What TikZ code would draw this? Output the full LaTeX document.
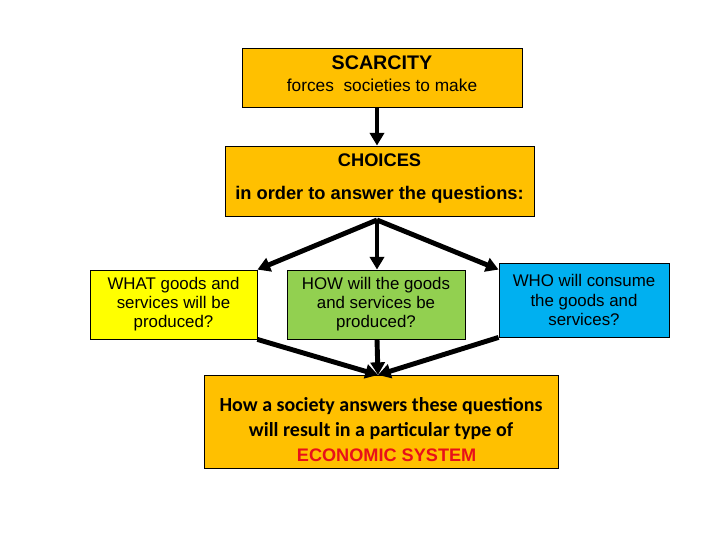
\documentclass[tikz,border=0pt]{standalone}
\usepackage{fontspec}
\setmainfont{Liberation Sans}
\newfontfamily\calibri{Carlito}
\usepackage{tikz}
\usetikzlibrary{arrows.meta}
\usepackage{xcolor}
\definecolor{boxorange}{HTML}{FFC000}
\definecolor{boxyellow}{HTML}{FFFF00}
\definecolor{boxgreen}{HTML}{92D050}
\definecolor{boxblue}{HTML}{00B0F0}
\definecolor{sysred}{HTML}{E8101A}

\begin{document}
\begin{tikzpicture}[
  box/.style={draw=black, line width=0.6pt, inner sep=0pt, align=center},
  question/.style={box, minimum height=1.725cm, font=\fontsize{12}{13.6}\selectfont},
  flow/.style={line width=3.5pt, -{Triangle[length=9pt,width=10pt]}}
]
\useasboundingbox (0,0) rectangle (18,13.5);

\node[box, fill=boxorange, minimum width=7cm, minimum height=1.475cm] (scarcity) at (9.55,11.5625)
  {\fontsize{14}{14}\selectfont\bfseries SCARCITY\\[3.5pt]\fontsize{12.3}{12.5}\selectfont\mdseries forces\ \ societies to make\rule[-5pt]{0pt}{0pt}};
\node[box, fill=boxorange, minimum width=7.725cm, minimum height=1.75cm] (choices) at (9.4875,8.975)
  {\fontsize{13}{13}\selectfont\bfseries CHOICES\\[11pt]\fontsize{13}{13}\selectfont\bfseries in order to answer the questions:\rule[-6pt]{0pt}{0pt}};

\node[question, fill=boxyellow, minimum width=4.175cm] (what) at (4.3375,5.8875)
  {WHAT goods and\\services will be\\produced?};
\node[question, fill=boxgreen, minimum width=4.45cm] (how) at (9.4,5.8875)
  {HOW will the goods\\and services be\\produced?};
\node[question, fill=boxblue, minimum width=4.25cm, minimum height=1.85cm] (who) at (14.6,6.0)
  {WHO will consume\\the goods and\\services?};

\node[box, fill=boxorange, minimum width=8.85cm, minimum height=2.325cm,
      font=\calibri\bfseries\fontsize{14.2}{17.3}\selectfont] (system) at (9.525,2.9625)
  {\rule{0pt}{22pt}How a society answers these questions\\
   will result in a particular type of\\[1pt]
   \hspace*{8pt}\normalfont\bfseries\fontsize{12.9}{13}\selectfont\color{sysred}ECONOMIC SYSTEM};

\coordinate (split) at (9.425,8.0);
\coordinate (merge) at (9.45,4.125);

% scarcity leads to choices
\draw[flow] (scarcity.south -| split) -- (choices.north -| split);
% the three questions
\draw[flow] (split) -- (what.north east);
\draw[flow] (split) -- (split |- how.north);
\draw[flow] (split) -- ([yshift=-0.175cm]who.north west);
% answers give the system
\draw[flow] (what.south east) -- (merge);
\draw[flow] (how.south -| split) -- (merge);
\draw[flow] (who.south west) -- (merge);
\end{tikzpicture}
\end{document}
